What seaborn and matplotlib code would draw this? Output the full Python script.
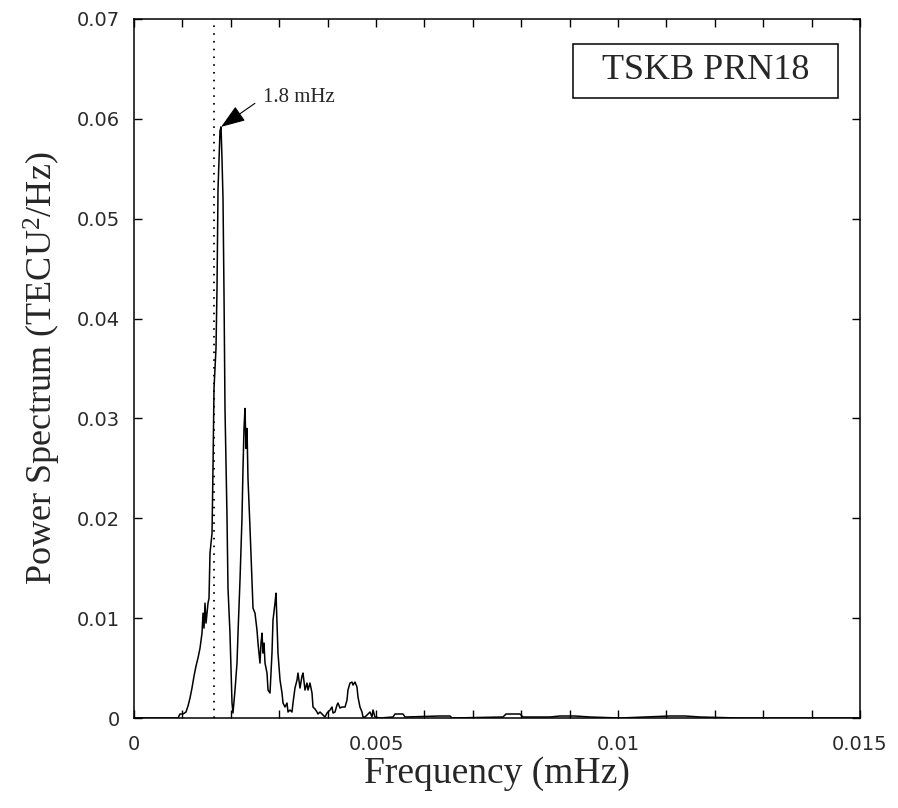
import numpy as np
import pandas as pd
import matplotlib
matplotlib.use("Agg")
import matplotlib.pyplot as plt
from matplotlib.patches import Rectangle
from matplotlib.ticker import FixedLocator, FixedFormatter, MultipleLocator
import seaborn as sns

# Frequency bins (in units of 1e-3) and power spectrum values (TECU^2/Hz)
freq_e3 = [
    0.000, 0.909, 0.950, 1.012, 1.074, 1.116, 1.157, 1.198, 1.240, 1.281,
    1.322, 1.364, 1.405, 1.426, 1.446, 1.467, 1.488, 1.508, 1.529, 1.550,
    1.570, 1.612, 1.632, 1.653, 1.694, 1.715, 1.736, 1.777, 1.798, 1.818,
    1.839, 1.860, 1.880, 1.921, 1.942, 1.983, 2.025, 2.045, 2.087, 2.128,
    2.149, 2.190, 2.231, 2.252, 2.273, 2.293, 2.314, 2.335, 2.355, 2.397,
    2.438, 2.459, 2.500, 2.541, 2.562, 2.603, 2.624, 2.645, 2.665, 2.686,
    2.707, 2.748, 2.769, 2.810, 2.851, 2.872, 2.913, 2.934, 2.955, 2.975,
    3.017, 3.058, 3.079, 3.120, 3.161, 3.182, 3.223, 3.264, 3.285, 3.326,
    3.368, 3.388, 3.430, 3.471, 3.492, 3.533, 3.574, 3.595, 3.636, 3.678,
    3.698, 3.740, 3.781, 3.802, 3.843, 3.905, 3.946, 3.988, 4.008, 4.050,
    4.091, 4.112, 4.153, 4.194, 4.215, 4.256, 4.298, 4.360, 4.401, 4.421,
    4.463, 4.504, 4.525, 4.566, 4.607, 4.628, 4.669, 4.711, 4.731, 4.773,
    4.814, 4.876, 4.917, 4.938, 4.979, 5.083, 5.351, 5.393, 5.558, 5.599,
    6.322, 6.529, 6.570, 7.624, 7.686, 7.975, 8.037, 8.595, 8.802, 9.112,
    9.421, 10.041, 11.074, 11.384, 11.694, 12.500, 15.000,
]
power = [
    0.0000, 0.0000, 0.0004, 0.0004, 0.0006, 0.0012, 0.0020, 0.0030, 0.0042, 0.0052,
    0.0060, 0.0070, 0.0085, 0.0105, 0.0090, 0.0115, 0.0095, 0.0105, 0.0115, 0.0120,
    0.0165, 0.0185, 0.0250, 0.0330, 0.0370, 0.0430, 0.0530, 0.0588, 0.0592, 0.0560,
    0.0520, 0.0423, 0.0310, 0.0203, 0.0130, 0.0085, 0.0015, 0.0005, 0.0028, 0.0055,
    0.0085, 0.0138, 0.0200, 0.0250, 0.0290, 0.0310, 0.0270, 0.0290, 0.0240, 0.0190,
    0.0138, 0.0110, 0.0105, 0.0088, 0.0075, 0.0055, 0.0075, 0.0085, 0.0065, 0.0075,
    0.0055, 0.0045, 0.0028, 0.0025, 0.0065, 0.0098, 0.0115, 0.0125, 0.0095, 0.0065,
    0.0038, 0.0025, 0.0015, 0.0011, 0.0015, 0.0006, 0.0008, 0.0006, 0.0015, 0.0030,
    0.0038, 0.0045, 0.0030, 0.0042, 0.0045, 0.0028, 0.0035, 0.0028, 0.0035, 0.0025,
    0.0011, 0.0009, 0.0006, 0.0004, 0.0006, 0.0003, 0.0001, 0.0005, 0.0006, 0.0008,
    0.0011, 0.0005, 0.0006, 0.0013, 0.0015, 0.0010, 0.0011, 0.0011, 0.0018, 0.0028,
    0.0035, 0.0036, 0.0033, 0.0036, 0.0031, 0.0021, 0.0011, 0.0006, 0.0001, 0.0001,
    0.0003, 0.0006, 0.0001, 0.0008, 0.0001, 0.0000, 0.0001, 0.0004, 0.0004, 0.0001,
    0.0002, 0.0002, 0.0000, 0.0001, 0.0004, 0.0004, 0.0001, 0.0001, 0.0002, 0.0002,
    0.0001, 0.0000, 0.0002, 0.0002, 0.0001, 0.0000, 0.0000,
]

x_ticks = [0, 0.005, 0.01, 0.015]
x_tick_labels = ["0", "0.005", "0.01", "0.015"]
y_ticks = [0, 0.01, 0.02, 0.03, 0.04, 0.05, 0.06, 0.07]
y_tick_labels = ["0", "0.01", "0.02", "0.03", "0.04", "0.05", "0.06", "0.07"]

peak_freq = 0.0018
peak_power = 0.0592
marker_freq = 0.00165
peak_label = "1.8 mHz"
station_label = "TSKB PRN18"

df = pd.DataFrame({"freq": np.array(freq_e3) * 1e-3, "power": power})

sns.set_theme(style="ticks")
plt.rcParams["font.family"] = ["Liberation Serif", "DejaVu Serif"]
plt.rcParams["mathtext.fontset"] = "custom"
plt.rcParams["mathtext.rm"] = "Liberation Serif"
plt.rcParams["mathtext.it"] = "Liberation Serif:italic"

fig = plt.figure(figsize=(8.98, 8.08), dpi=100)
ax = fig.add_axes([134 / 898, 1 - 718 / 808, 726 / 898, 699 / 808])

sns.lineplot(data=df, x="freq", y="power", ax=ax, color="black",
             linewidth=1.1, estimator=None, sort=False)

# dotted reference line just below the peak frequency
ax.axvline(marker_freq, color="black", linestyle=(0, (0.9, 3.4)), linewidth=1.3)

ax.set_xlim(0, 0.015)
ax.set_ylim(0, 0.07)

ax.xaxis.set_major_locator(FixedLocator(x_ticks))
ax.xaxis.set_major_formatter(FixedFormatter(x_tick_labels))
ax.xaxis.set_minor_locator(MultipleLocator(0.001))
ax.yaxis.set_major_locator(FixedLocator(y_ticks))
ax.yaxis.set_major_formatter(FixedFormatter(y_tick_labels))

ax.tick_params(axis="both", which="both", direction="in", top=True, right=True,
               length=6, width=1.0, color="black")
ax.tick_params(axis="x", which="major", pad=12)
ax.tick_params(axis="y", which="major", pad=10)
for lbl in ax.get_xticklabels() + ax.get_yticklabels():
    lbl.set_fontfamily("DejaVu Sans")
    lbl.set_fontsize(14)
    lbl.set_color("#2a2a2a")

for sp in ax.spines.values():
    sp.set_linewidth(1.1)
    sp.set_color("black")

ax.set_xlabel("Frequency (mHz)", fontsize=27, labelpad=2)
ax.set_ylabel(r"Power Spectrum (TECU$^{2}$/Hz)", fontsize=26, labelpad=10)

ax.annotate(peak_label, xy=(peak_freq, peak_power), xytext=(0.00266, 0.0621),
            fontsize=15, ha="left", va="center",
            arrowprops=dict(arrowstyle="-|>,head_length=1.0,head_width=0.36",
                            mutation_scale=15, color="black", lw=0.8,
                            shrinkA=4, shrinkB=0, relpos=(0, 0.5)))

ax.add_patch(Rectangle((0.6047, 0.887), 0.365, 0.077, transform=ax.transAxes,
                       fill=False, edgecolor="black", linewidth=1.1))
ax.text(0.787, 0.926, station_label, transform=ax.transAxes, fontsize=26,
        ha="center", va="center")

fig.savefig("out.png", dpi=100)
